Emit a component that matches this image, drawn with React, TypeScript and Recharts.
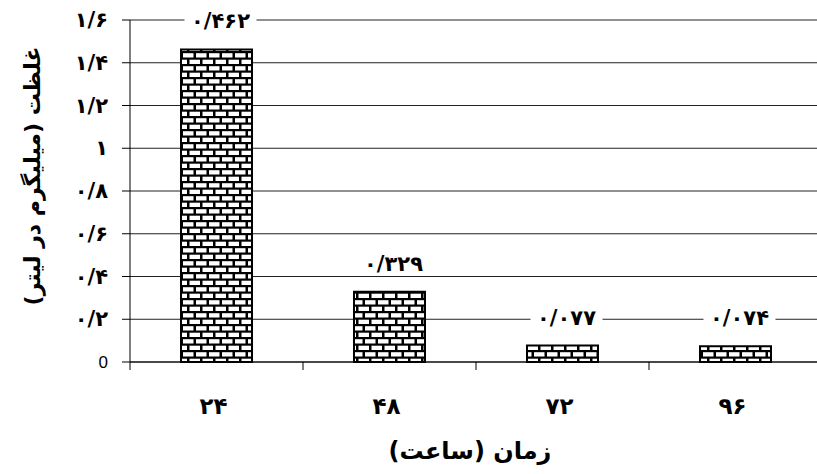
import React from 'react';
import { BarChart, Bar, XAxis, YAxis, CartesianGrid } from 'recharts';

const categories = ['۲۴', '۴۸', '۷۲', '۹۶'];
const values = [1.462, 0.329, 0.077, 0.074];
const valueLabels = ['۰/۴۶۲', '۰/۳۲۹', '۰/۰۷۷', '۰/۰۷۴'];
const yTicks = [0, 0.2, 0.4, 0.6, 0.8, 1, 1.2, 1.4, 1.6];
const yTickLabels = ['0', '۰/۲', '۰/۴', '۰/۶', '۰/۸', '۱', '۱/۲', '۱/۴', '۱/۶'];
const xTitle = 'زمان (ساعت)';
const yTitle = 'غلظت (میلیگرم در لیتر)';

const data = categories.map((c, i) => ({ name: c, value: values[i] }));

const W = 830;
const H = 474;
const M = { top: 20, right: 8, left: 0, bottom: 0 };
const YW = 130;
const XH = 112;
const band = (W - M.left - M.right - YW) / categories.length;

const FONT = '"DejaVu Sans", "Noto Sans", sans-serif';

const YTick = (props: any) => {
  const { x, y, payload } = props;
  const v = payload.value;
  const idx = yTicks.indexOf(v);
  const label = idx >= 0 ? yTickLabels[idx] : String(v);
  const isZero = v === 0;
  return (
    <text
      x={x}
      y={y}
      textAnchor="end"
      dominantBaseline="central"
      fontFamily={isZero ? '"Liberation Sans", Arial, sans-serif' : FONT}
      fontWeight={isZero ? 400 : 700}
      fontSize={isZero ? 17 : 21}
      fill="#000"
    >
      {label}
    </text>
  );
};

const XTick = (props: any) => {
  const { x, y, payload, index } = props;
  const half = payload && payload.offset ? payload.offset : band / 2;
  const last = index === categories.length - 1;
  return (
    <g>
      <line x1={x - half} x2={x - half} y1={y - 8} y2={y} stroke="#000" strokeWidth={1} />
      {last && <line x1={x + half} x2={x + half} y1={y - 8} y2={y} stroke="#000" strokeWidth={1} />}
      <text
        x={x - 3}
        y={y + 36}
        textAnchor="middle"
        dominantBaseline="central"
        fontFamily={FONT}
        fontWeight={700}
        fontSize={23}
        fill="#000"
      >
        {payload.value}
      </text>
    </g>
  );
};

const BarValueLabel = (props: any) => {
  const { x, y, width, index } = props;
  const cx = x + width / 2 + 4;
  const cy = y - 28;
  return (
    <g>
      <rect x={cx - 36} y={cy - 11} width={72} height={22} fill="#fff" />
      <text
        x={cx}
        y={cy}
        textAnchor="middle"
        dominantBaseline="central"
        fontFamily={FONT}
        fontWeight={700}
        fontSize={21}
        fill="#000"
      >
        {valueLabels[index]}
      </text>
    </g>
  );
};

const XTitle = (props: any) => {
  const vb = props.viewBox || {};
  const cx = vb.x + vb.width / 2 - 6;
  return (
    <text
      x={cx}
      y={451}
      textAnchor="middle"
      dominantBaseline="central"
      fontFamily={FONT}
      fontWeight={700}
      fontSize={24}
      fill="#000"
      style={{ direction: 'rtl', unicodeBidi: 'embed' } as any}
    >
      {xTitle}
    </text>
  );
};

const YTitle = (props: any) => {
  const cy = 176;
  const cx = 32;
  return (
    <text
      x={cx}
      y={cy}
      transform={`rotate(-90, ${cx}, ${cy})`}
      textAnchor="middle"
      dominantBaseline="central"
      fontFamily={FONT}
      fontWeight={700}
      fontSize={22}
      fill="#000"
      style={{ direction: 'rtl', unicodeBidi: 'embed' } as any}
    >
      {yTitle}
    </text>
  );
};

export default function App() {
  return (
    <div style={{ position: 'absolute', left: 0, top: 0, width: 817, height: 474, overflow: 'hidden', background: '#fff' }}>
      <BarChart width={W} height={H} data={data} margin={M} barSize={71}>
        <defs>
          <pattern id="brick" patternUnits="userSpaceOnUse" width={13} height={13}>
            <rect x={0} y={0} width={13} height={13} fill="#000" />
            <rect x={1} y={1.2} width={10.5} height={4.3} fill="#fff" />
            <rect x={-5.5} y={7.7} width={10.5} height={4.3} fill="#fff" />
            <rect x={7.5} y={7.7} width={10.5} height={4.3} fill="#fff" />
          </pattern>
        </defs>
        <CartesianGrid vertical={false} stroke="#222" strokeWidth={1} />
        <XAxis
          dataKey="name"
          height={XH}
          axisLine={{ stroke: '#000', strokeWidth: 1 }}
          tickLine={false}
          tick={<XTick />}
          interval={0}
          label={<XTitle />}
        />
        <YAxis
          width={YW}
          domain={[0, 1.6]}
          ticks={yTicks}
          interval={0}
          axisLine={{ stroke: '#000', strokeWidth: 1 }}
          tickLine={{ stroke: '#000', strokeWidth: 1 }}
          tickSize={8}
          tickMargin={14}
          tick={<YTick />}
          label={<YTitle />}
        />
        <Bar
          dataKey="value"
          fill="url(#brick)"
          stroke="#000"
          strokeWidth={2}
          isAnimationActive={false}
          label={<BarValueLabel />}
        />
      </BarChart>
    </div>
  );
}
